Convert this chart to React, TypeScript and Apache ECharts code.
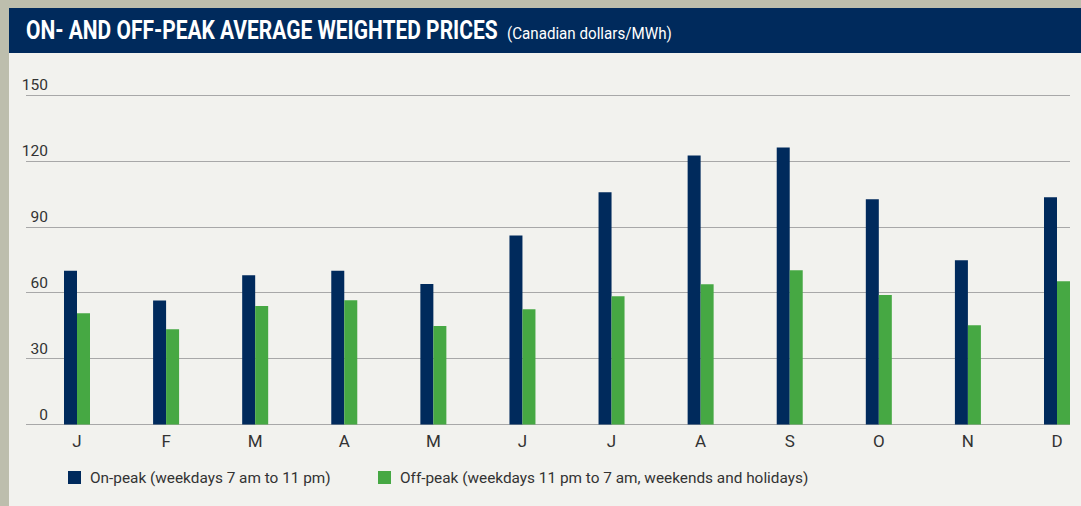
import React, { useEffect, useRef } from "react";
import * as echarts from "echarts";

const months = ["J", "F", "M", "A", "M", "J", "J", "A", "S", "O", "N", "D"];
const onPeak = [70, 56.5, 68, 70, 64, 86, 105.7, 122.5, 126.1, 102.5, 74.8, 103.4];
const offPeak = [50.7, 43.4, 54, 56.6, 44.8, 52.5, 58.4, 63.9, 70.2, 58.9, 45.2, 65.2];
const yTicks = [0, 30, 60, 90, 120, 150];
const onLabel = "On-peak (weekdays 7 am to 11 pm)";
const offLabel = "Off-peak (weekdays 11 pm to 7 am, weekends and holidays)";
const titleMain = "ON- AND OFF-PEAK AVERAGE WEIGHTED PRICES";
const titleSub = "(Canadian dollars/MWh)";

const FONT = "Roboto, 'Liberation Sans', sans-serif";
const NAVY = "#002a5c";
const GREEN = "#46a843";
const TEXT = "#333333";

function measure(text: string, font: string): number {
  const c = document.createElement("canvas");
  const ctx = c.getContext("2d");
  if (!ctx) return text.length * 8;
  ctx.font = font;
  return ctx.measureText(text).width;
}

export default function App() {
  const ref = useRef<HTMLDivElement>(null);
  useEffect(() => {
    if (!ref.current) return;
    const chart = echarts.init(ref.current, undefined, { renderer: "svg" });
    const top = 95;
    const bottom = 506 - 424.5;

    const titleFont = "bold 25px Roboto";
    const subFont = "17px Roboto";
    const titleScale = 472 / measure(titleMain, titleFont);
    const subScale = 165 / measure(titleSub, subFont);
    const legendSize = Math.min(18, (18 * 241) / measure(onLabel, "18px Roboto"));

    chart.setOption({
      animation: false,
      backgroundColor: "#f2f2ee",
      textStyle: { fontFamily: FONT },
      graphic: [
        { type: "rect", shape: { x: 0, y: 0, width: 9, height: 506 }, style: { fill: "#bdbead" }, z: 1 },
        { type: "rect", shape: { x: 0, y: 0, width: 1081, height: 8 }, style: { fill: "#bdbead" }, z: 1 },
        { type: "rect", shape: { x: 9, y: 8, width: 1072, height: 45 }, style: { fill: NAVY }, z: 1 },
        {
          type: "text",
          x: 26,
          y: 30.5,
          scaleX: titleScale,
          z: 5,
          style: {
            text: titleMain,
            fill: "#ffffff",
            fontFamily: "Roboto",
            fontWeight: "bold",
            fontSize: 25,
            verticalAlign: "middle",
            align: "left",
          },
        },
        {
          type: "text",
          x: 507,
          y: 33,
          scaleX: subScale,
          z: 5,
          style: {
            text: titleSub,
            fill: "#ffffff",
            fontFamily: "Roboto",
            fontSize: 17,
            verticalAlign: "middle",
            align: "left",
          },
        },
      ],
      legend: [
        {
          left: 63,
          top: 465,
          itemWidth: 13,
          itemHeight: 13,
          icon: "rect",
          data: [onLabel],
          textStyle: { fontFamily: FONT, fontSize: legendSize, color: TEXT, padding: [0, 0, 0, 4] },
        },
        {
          left: 373,
          top: 465,
          itemWidth: 13,
          itemHeight: 13,
          icon: "rect",
          data: [offLabel],
          textStyle: { fontFamily: FONT, fontSize: legendSize, color: TEXT, padding: [0, 0, 0, 4] },
        },
      ],
      grid: [
        { left: 26, right: 11, top, bottom },
        { left: 77, right: 24, top, bottom },
      ],
      xAxis: [
        { type: "category", gridIndex: 0, data: months, show: false },
        {
          type: "category",
          gridIndex: 1,
          data: months,
          boundaryGap: false,
          axisLine: { show: false },
          axisTick: { show: false },
          axisLabel: { fontFamily: FONT, fontSize: 17, color: TEXT, margin: 8 },
        },
      ],
      yAxis: [
        {
          type: "value",
          gridIndex: 0,
          min: yTicks[0],
          max: yTicks[yTicks.length - 1],
          interval: 30,
          axisLine: { show: false },
          axisTick: { show: false },
          splitLine: { lineStyle: { color: "#a8a8a8", width: 1 } },
          axisLabel: {
            inside: true,
            align: "right",
            verticalAlign: "bottom",
            margin: 22,
            fontFamily: FONT,
            fontSize: 15.5,
            color: TEXT,
            padding: [0, 0, 2, 0],
          },
        },
        {
          type: "value",
          gridIndex: 1,
          min: yTicks[0],
          max: yTicks[yTicks.length - 1],
          interval: 30,
          show: false,
          splitLine: { show: false },
        },
      ],
      series: [
        {
          name: onLabel,
          type: "bar",
          xAxisIndex: 1,
          yAxisIndex: 1,
          data: onPeak,
          barWidth: 13,
          barGap: "0%",
          itemStyle: { color: NAVY },
        },
        {
          name: offLabel,
          type: "bar",
          xAxisIndex: 1,
          yAxisIndex: 1,
          data: offPeak,
          barWidth: 13,
          barGap: "0%",
          itemStyle: { color: GREEN },
        },
      ],
    });
    return () => chart.dispose();
  }, []);
  return (
    <div
      ref={ref}
      style={{ position: "fixed", left: 0, top: 0, width: 1081, height: 506 }}
    />
  );
}
